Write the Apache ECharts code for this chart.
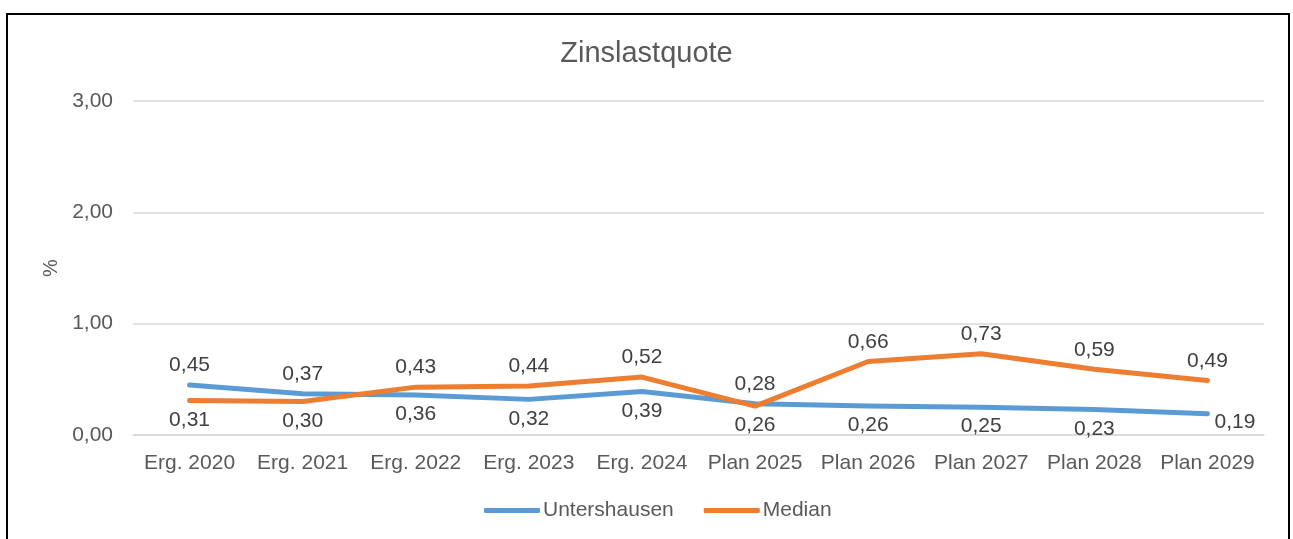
<!DOCTYPE html>
<html>
<head>
<meta charset="utf-8">
<script src="https://cdn.jsdelivr.net/npm/echarts@6/dist/echarts.min.js"></script>
<style>
  html, body { margin: 0; padding: 0; background: #fff; }
  #chart { width: 1293px; height: 539px; }
  #frame { position: absolute; left: 6px; top: 13px; width: 1280px; height: 600px;
           border: 2px solid #000; pointer-events: none; }
</style>
</head>
<body>
<div id="chart"></div>
<div id="frame"></div>
<script>
// chart data
const categories = ["Erg. 2020", "Erg. 2021", "Erg. 2022", "Erg. 2023", "Erg. 2024",
  "Plan 2025", "Plan 2026", "Plan 2027", "Plan 2028", "Plan 2029"];
const untershausen = [0.45, 0.37, 0.36, 0.32, 0.39, 0.28, 0.26, 0.25, 0.23, 0.19];
const median = [0.31, 0.30, 0.43, 0.44, 0.52, 0.26, 0.66, 0.73, 0.59, 0.49];
const yTicks = [0, 1, 2, 3];

// label placement per point (styling only)
const bluePos = ["top", "top", "bottom", "bottom", "bottom", "top", "bottom", "bottom", "bottom", "right"];
const orangePos = ["bottom", "bottom", "top", "top", "top", "bottom", "top", "top", "top", "top"];

const fmt = v => v.toFixed(2).replace(".", ",");
const font = "Liberation Sans, Arial, sans-serif";

function buildData(values, positions) {
  return values.map((v, i) => ({
    value: v,
    label: {
      position: positions[i],
      offset: positions[i] === "right" ? [-2, 8] : [0, 0]
    }
  }));
}

let myChart = echarts.init(document.getElementById("chart"));
myChart.setOption({
  animation: false,
  textStyle: { fontFamily: font },
  title: {
    text: "Zinslastquote",
    left: "center",
    top: 34,
    textStyle: { fontSize: 29, fontWeight: "normal", color: "#595959", fontFamily: font }
  },
  legend: {
    bottom: 13,
    left: 479,
    itemWidth: 56,
    itemHeight: 5,
    itemGap: 30,
    icon: "roundRect",
    textStyle: { fontSize: 21, color: "#595959", fontFamily: font, padding: [0, 0, 0, -2] },
    data: ["Untershausen", "Median"]
  },
  grid: { left: 133, right: 29, top: 101, bottom: 104, containLabel: false },
  xAxis: {
    type: "category",
    data: categories,
    boundaryGap: true,
    axisLine: { lineStyle: { color: "#d9d9d9", width: 1.5 } },
    axisTick: { show: false },
    axisLabel: { fontSize: 21, color: "#595959", margin: 18, interval: 0 }
  },
  yAxis: {
    type: "value",
    min: yTicks[0],
    max: yTicks[yTicks.length - 1],
    interval: 1,
    name: "%",
    nameLocation: "middle",
    nameGap: 64,
    nameRotate: 90,
    nameTextStyle: { fontSize: 20, color: "#595959" },
    axisLine: { show: false },
    axisTick: { show: false },
    axisLabel: { fontSize: 21, color: "#595959", margin: 20, formatter: fmt },
    splitLine: { lineStyle: { color: "#d9d9d9", width: 1.5 } }
  },
  series: [
    {
      name: "Untershausen",
      type: "line",
      data: buildData(untershausen, bluePos),
      symbol: "circle",
      symbolSize: 0,
      showSymbol: true,
      lineStyle: { width: 5, color: "#5B9BD5", cap: "round", join: "round" },
      itemStyle: { color: "#5B9BD5" },
      label: { show: true, fontSize: 21, color: "#404040", distance: 9,
        formatter: p => fmt(p.value) }
    },
    {
      name: "Median",
      type: "line",
      data: buildData(median, orangePos),
      symbol: "circle",
      symbolSize: 0,
      showSymbol: true,
      lineStyle: { width: 5, color: "#ED7D31", cap: "round", join: "round" },
      itemStyle: { color: "#ED7D31" },
      label: { show: true, fontSize: 21, color: "#404040", distance: 9,
        formatter: p => fmt(p.value) }
    }
  ]
});
window.onresize = function () {
  myChart.resize();
};
</script>
</body>
</html>
